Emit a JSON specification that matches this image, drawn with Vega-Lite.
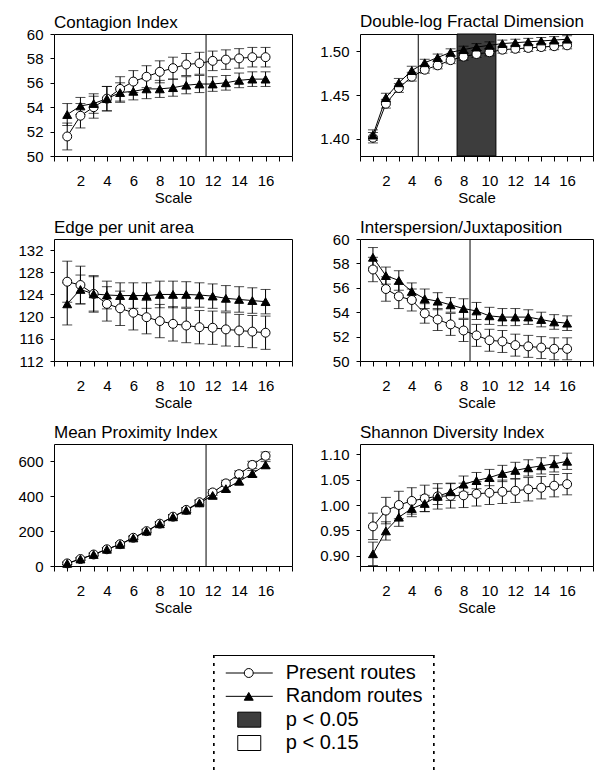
{
"$schema": "https://vega.github.io/schema/vega-lite/v6.json",
"padding": {"left": 13, "top": 12, "right": 0, "bottom": 0},
"background": "white",
"datasets": {
"series": [
{"panel":"contagion","series":"Present","scale":1,"mean":51.6,"lo":50.5,"hi":52.7},
{"panel":"contagion","series":"Present","scale":2,"mean":53.3,"lo":52.3,"hi":54.3},
{"panel":"contagion","series":"Present","scale":3,"mean":54.0,"lo":53.1,"hi":54.9},
{"panel":"contagion","series":"Present","scale":4,"mean":54.7,"lo":53.7,"hi":55.7},
{"panel":"contagion","series":"Present","scale":5,"mean":55.5,"lo":54.5,"hi":56.5},
{"panel":"contagion","series":"Present","scale":6,"mean":56.1,"lo":55.2,"hi":57.0},
{"panel":"contagion","series":"Present","scale":7,"mean":56.5,"lo":55.6,"hi":57.4},
{"panel":"contagion","series":"Present","scale":8,"mean":56.9,"lo":56.0,"hi":57.8},
{"panel":"contagion","series":"Present","scale":9,"mean":57.2,"lo":56.3,"hi":58.1},
{"panel":"contagion","series":"Present","scale":10,"mean":57.5,"lo":56.6,"hi":58.4},
{"panel":"contagion","series":"Present","scale":11,"mean":57.6,"lo":56.7,"hi":58.5},
{"panel":"contagion","series":"Present","scale":12,"mean":57.8,"lo":57.0,"hi":58.6},
{"panel":"contagion","series":"Present","scale":13,"mean":57.9,"lo":57.1,"hi":58.7},
{"panel":"contagion","series":"Present","scale":14,"mean":58.0,"lo":57.2,"hi":58.8},
{"panel":"contagion","series":"Present","scale":15,"mean":58.1,"lo":57.3,"hi":58.9},
{"panel":"contagion","series":"Present","scale":16,"mean":58.1,"lo":57.3,"hi":58.9},
{"panel":"contagion","series":"Random","scale":1,"mean":53.4,"lo":52.5,"hi":54.3},
{"panel":"contagion","series":"Random","scale":2,"mean":54.1,"lo":53.4,"hi":54.8},
{"panel":"contagion","series":"Random","scale":3,"mean":54.3,"lo":53.5,"hi":55.1},
{"panel":"contagion","series":"Random","scale":4,"mean":54.7,"lo":53.7,"hi":55.7},
{"panel":"contagion","series":"Random","scale":5,"mean":55.2,"lo":54.4,"hi":56.0},
{"panel":"contagion","series":"Random","scale":6,"mean":55.3,"lo":54.6,"hi":56.0},
{"panel":"contagion","series":"Random","scale":7,"mean":55.5,"lo":54.7,"hi":56.3},
{"panel":"contagion","series":"Random","scale":8,"mean":55.5,"lo":54.8,"hi":56.2},
{"panel":"contagion","series":"Random","scale":9,"mean":55.6,"lo":54.9,"hi":56.3},
{"panel":"contagion","series":"Random","scale":10,"mean":55.8,"lo":55.1,"hi":56.5},
{"panel":"contagion","series":"Random","scale":11,"mean":55.9,"lo":55.2,"hi":56.6},
{"panel":"contagion","series":"Random","scale":12,"mean":55.9,"lo":55.3,"hi":56.5},
{"panel":"contagion","series":"Random","scale":13,"mean":56.0,"lo":55.4,"hi":56.6},
{"panel":"contagion","series":"Random","scale":14,"mean":56.2,"lo":55.6,"hi":56.8},
{"panel":"contagion","series":"Random","scale":15,"mean":56.3,"lo":55.7,"hi":56.9},
{"panel":"contagion","series":"Random","scale":16,"mean":56.3,"lo":55.7,"hi":56.9},
{"panel":"fractal","series":"Present","scale":1,"mean":1.401,"lo":1.395,"hi":1.407},
{"panel":"fractal","series":"Present","scale":2,"mean":1.440,"lo":1.435,"hi":1.445},
{"panel":"fractal","series":"Present","scale":3,"mean":1.458,"lo":1.453,"hi":1.463},
{"panel":"fractal","series":"Present","scale":4,"mean":1.471,"lo":1.466,"hi":1.476},
{"panel":"fractal","series":"Present","scale":5,"mean":1.479,"lo":1.475,"hi":1.483},
{"panel":"fractal","series":"Present","scale":6,"mean":1.484,"lo":1.480,"hi":1.488},
{"panel":"fractal","series":"Present","scale":7,"mean":1.490,"lo":1.486,"hi":1.494},
{"panel":"fractal","series":"Present","scale":8,"mean":1.494,"lo":1.490,"hi":1.498},
{"panel":"fractal","series":"Present","scale":9,"mean":1.497,"lo":1.493,"hi":1.501},
{"panel":"fractal","series":"Present","scale":10,"mean":1.499,"lo":1.495,"hi":1.503},
{"panel":"fractal","series":"Present","scale":11,"mean":1.502,"lo":1.498,"hi":1.506},
{"panel":"fractal","series":"Present","scale":12,"mean":1.503,"lo":1.499,"hi":1.507},
{"panel":"fractal","series":"Present","scale":13,"mean":1.504,"lo":1.500,"hi":1.508},
{"panel":"fractal","series":"Present","scale":14,"mean":1.505,"lo":1.501,"hi":1.509},
{"panel":"fractal","series":"Present","scale":15,"mean":1.506,"lo":1.502,"hi":1.510},
{"panel":"fractal","series":"Present","scale":16,"mean":1.507,"lo":1.503,"hi":1.511},
{"panel":"fractal","series":"Random","scale":1,"mean":1.404,"lo":1.398,"hi":1.410},
{"panel":"fractal","series":"Random","scale":2,"mean":1.447,"lo":1.442,"hi":1.452},
{"panel":"fractal","series":"Random","scale":3,"mean":1.464,"lo":1.459,"hi":1.469},
{"panel":"fractal","series":"Random","scale":4,"mean":1.478,"lo":1.473,"hi":1.483},
{"panel":"fractal","series":"Random","scale":5,"mean":1.487,"lo":1.483,"hi":1.491},
{"panel":"fractal","series":"Random","scale":6,"mean":1.493,"lo":1.489,"hi":1.497},
{"panel":"fractal","series":"Random","scale":7,"mean":1.499,"lo":1.495,"hi":1.503},
{"panel":"fractal","series":"Random","scale":8,"mean":1.502,"lo":1.498,"hi":1.506},
{"panel":"fractal","series":"Random","scale":9,"mean":1.505,"lo":1.501,"hi":1.509},
{"panel":"fractal","series":"Random","scale":10,"mean":1.507,"lo":1.503,"hi":1.511},
{"panel":"fractal","series":"Random","scale":11,"mean":1.509,"lo":1.505,"hi":1.513},
{"panel":"fractal","series":"Random","scale":12,"mean":1.510,"lo":1.506,"hi":1.514},
{"panel":"fractal","series":"Random","scale":13,"mean":1.511,"lo":1.507,"hi":1.515},
{"panel":"fractal","series":"Random","scale":14,"mean":1.512,"lo":1.508,"hi":1.516},
{"panel":"fractal","series":"Random","scale":15,"mean":1.513,"lo":1.509,"hi":1.517},
{"panel":"fractal","series":"Random","scale":16,"mean":1.514,"lo":1.510,"hi":1.518},
{"panel":"edge","series":"Present","scale":1,"mean":126.3,"lo":122.6,"hi":130.0},
{"panel":"edge","series":"Present","scale":2,"mean":125.7,"lo":122.3,"hi":129.1},
{"panel":"edge","series":"Present","scale":3,"mean":124.1,"lo":120.8,"hi":127.4},
{"panel":"edge","series":"Present","scale":4,"mean":122.3,"lo":119.2,"hi":125.4},
{"panel":"edge","series":"Present","scale":5,"mean":121.5,"lo":118.4,"hi":124.6},
{"panel":"edge","series":"Present","scale":6,"mean":120.7,"lo":117.6,"hi":123.8},
{"panel":"edge","series":"Present","scale":7,"mean":119.9,"lo":116.9,"hi":122.9},
{"panel":"edge","series":"Present","scale":8,"mean":119.2,"lo":116.2,"hi":122.2},
{"panel":"edge","series":"Present","scale":9,"mean":118.7,"lo":115.6,"hi":121.8},
{"panel":"edge","series":"Present","scale":10,"mean":118.4,"lo":115.3,"hi":121.5},
{"panel":"edge","series":"Present","scale":11,"mean":118.1,"lo":115.1,"hi":121.1},
{"panel":"edge","series":"Present","scale":12,"mean":118.0,"lo":115.0,"hi":121.0},
{"panel":"edge","series":"Present","scale":13,"mean":117.7,"lo":114.7,"hi":120.7},
{"panel":"edge","series":"Present","scale":14,"mean":117.5,"lo":114.6,"hi":120.4},
{"panel":"edge","series":"Present","scale":15,"mean":117.3,"lo":114.4,"hi":120.2},
{"panel":"edge","series":"Present","scale":16,"mean":117.1,"lo":114.1,"hi":120.1},
{"panel":"edge","series":"Random","scale":1,"mean":122.3,"lo":118.5,"hi":126.1},
{"panel":"edge","series":"Random","scale":2,"mean":124.9,"lo":122.3,"hi":127.5},
{"panel":"edge","series":"Random","scale":3,"mean":124.1,"lo":121.0,"hi":127.2},
{"panel":"edge","series":"Random","scale":4,"mean":123.9,"lo":121.4,"hi":126.4},
{"panel":"edge","series":"Random","scale":5,"mean":123.8,"lo":121.5,"hi":126.1},
{"panel":"edge","series":"Random","scale":6,"mean":123.8,"lo":121.5,"hi":126.1},
{"panel":"edge","series":"Random","scale":7,"mean":123.8,"lo":121.5,"hi":126.1},
{"panel":"edge","series":"Random","scale":8,"mean":124.0,"lo":121.6,"hi":126.4},
{"panel":"edge","series":"Random","scale":9,"mean":124.0,"lo":121.6,"hi":126.4},
{"panel":"edge","series":"Random","scale":10,"mean":124.0,"lo":121.7,"hi":126.3},
{"panel":"edge","series":"Random","scale":11,"mean":123.9,"lo":121.7,"hi":126.1},
{"panel":"edge","series":"Random","scale":12,"mean":123.7,"lo":121.5,"hi":125.9},
{"panel":"edge","series":"Random","scale":13,"mean":123.3,"lo":121.0,"hi":125.6},
{"panel":"edge","series":"Random","scale":14,"mean":123.1,"lo":120.8,"hi":125.4},
{"panel":"edge","series":"Random","scale":15,"mean":122.9,"lo":120.6,"hi":125.2},
{"panel":"edge","series":"Random","scale":16,"mean":122.7,"lo":120.5,"hi":124.9},
{"panel":"ij","series":"Present","scale":1,"mean":57.5,"lo":56.5,"hi":58.5},
{"panel":"ij","series":"Present","scale":2,"mean":55.9,"lo":54.9,"hi":56.9},
{"panel":"ij","series":"Present","scale":3,"mean":55.3,"lo":54.3,"hi":56.3},
{"panel":"ij","series":"Present","scale":4,"mean":55.0,"lo":54.1,"hi":55.9},
{"panel":"ij","series":"Present","scale":5,"mean":53.9,"lo":53.1,"hi":54.7},
{"panel":"ij","series":"Present","scale":6,"mean":53.4,"lo":52.5,"hi":54.3},
{"panel":"ij","series":"Present","scale":7,"mean":53.0,"lo":52.1,"hi":53.9},
{"panel":"ij","series":"Present","scale":8,"mean":52.5,"lo":51.6,"hi":53.4},
{"panel":"ij","series":"Present","scale":9,"mean":52.1,"lo":51.2,"hi":53.0},
{"panel":"ij","series":"Present","scale":10,"mean":51.7,"lo":50.8,"hi":52.6},
{"panel":"ij","series":"Present","scale":11,"mean":51.6,"lo":50.7,"hi":52.5},
{"panel":"ij","series":"Present","scale":12,"mean":51.3,"lo":50.4,"hi":52.2},
{"panel":"ij","series":"Present","scale":13,"mean":51.2,"lo":50.3,"hi":52.1},
{"panel":"ij","series":"Present","scale":14,"mean":51.1,"lo":50.2,"hi":52.0},
{"panel":"ij","series":"Present","scale":15,"mean":51.0,"lo":50.1,"hi":51.9},
{"panel":"ij","series":"Present","scale":16,"mean":51.0,"lo":50.1,"hi":51.9},
{"panel":"ij","series":"Random","scale":1,"mean":58.5,"lo":57.7,"hi":59.3},
{"panel":"ij","series":"Random","scale":2,"mean":57.0,"lo":56.3,"hi":57.7},
{"panel":"ij","series":"Random","scale":3,"mean":56.6,"lo":55.8,"hi":57.4},
{"panel":"ij","series":"Random","scale":4,"mean":55.7,"lo":55.0,"hi":56.4},
{"panel":"ij","series":"Random","scale":5,"mean":55.1,"lo":54.3,"hi":55.9},
{"panel":"ij","series":"Random","scale":6,"mean":54.9,"lo":54.2,"hi":55.6},
{"panel":"ij","series":"Random","scale":7,"mean":54.6,"lo":54.0,"hi":55.2},
{"panel":"ij","series":"Random","scale":8,"mean":54.3,"lo":53.5,"hi":55.1},
{"panel":"ij","series":"Random","scale":9,"mean":54.1,"lo":53.4,"hi":54.8},
{"panel":"ij","series":"Random","scale":10,"mean":53.7,"lo":53.0,"hi":54.4},
{"panel":"ij","series":"Random","scale":11,"mean":53.6,"lo":52.9,"hi":54.3},
{"panel":"ij","series":"Random","scale":12,"mean":53.6,"lo":52.9,"hi":54.3},
{"panel":"ij","series":"Random","scale":13,"mean":53.6,"lo":53.0,"hi":54.2},
{"panel":"ij","series":"Random","scale":14,"mean":53.4,"lo":52.8,"hi":54.0},
{"panel":"ij","series":"Random","scale":15,"mean":53.2,"lo":52.6,"hi":53.8},
{"panel":"ij","series":"Random","scale":16,"mean":53.1,"lo":52.5,"hi":53.7},
{"panel":"prox","series":"Present","scale":1,"mean":15,"lo":8,"hi":22},
{"panel":"prox","series":"Present","scale":2,"mean":40,"lo":33,"hi":47},
{"panel":"prox","series":"Present","scale":3,"mean":66,"lo":58,"hi":74},
{"panel":"prox","series":"Present","scale":4,"mean":96,"lo":87,"hi":105},
{"panel":"prox","series":"Present","scale":5,"mean":125,"lo":115,"hi":135},
{"panel":"prox","series":"Present","scale":6,"mean":162,"lo":152,"hi":172},
{"panel":"prox","series":"Present","scale":7,"mean":200,"lo":190,"hi":210},
{"panel":"prox","series":"Present","scale":8,"mean":243,"lo":232,"hi":254},
{"panel":"prox","series":"Present","scale":9,"mean":283,"lo":271,"hi":295},
{"panel":"prox","series":"Present","scale":10,"mean":322,"lo":309,"hi":335},
{"panel":"prox","series":"Present","scale":11,"mean":366,"lo":352,"hi":380},
{"panel":"prox","series":"Present","scale":12,"mean":422,"lo":406,"hi":438},
{"panel":"prox","series":"Present","scale":13,"mean":474,"lo":456,"hi":492},
{"panel":"prox","series":"Present","scale":14,"mean":527,"lo":508,"hi":546},
{"panel":"prox","series":"Present","scale":15,"mean":580,"lo":559,"hi":601},
{"panel":"prox","series":"Present","scale":16,"mean":632,"lo":610,"hi":654},
{"panel":"prox","series":"Random","scale":1,"mean":15,"lo":8,"hi":22},
{"panel":"prox","series":"Random","scale":2,"mean":40,"lo":33,"hi":47},
{"panel":"prox","series":"Random","scale":3,"mean":66,"lo":58,"hi":74},
{"panel":"prox","series":"Random","scale":4,"mean":96,"lo":87,"hi":105},
{"panel":"prox","series":"Random","scale":5,"mean":124,"lo":114,"hi":134},
{"panel":"prox","series":"Random","scale":6,"mean":161,"lo":151,"hi":171},
{"panel":"prox","series":"Random","scale":7,"mean":200,"lo":190,"hi":210},
{"panel":"prox","series":"Random","scale":8,"mean":242,"lo":231,"hi":253},
{"panel":"prox","series":"Random","scale":9,"mean":282,"lo":270,"hi":294},
{"panel":"prox","series":"Random","scale":10,"mean":320,"lo":307,"hi":333},
{"panel":"prox","series":"Random","scale":11,"mean":362,"lo":348,"hi":376},
{"panel":"prox","series":"Random","scale":12,"mean":405,"lo":390,"hi":420},
{"panel":"prox","series":"Random","scale":13,"mean":444,"lo":428,"hi":460},
{"panel":"prox","series":"Random","scale":14,"mean":486,"lo":469,"hi":503},
{"panel":"prox","series":"Random","scale":15,"mean":530,"lo":512,"hi":548},
{"panel":"prox","series":"Random","scale":16,"mean":580,"lo":561,"hi":599},
{"panel":"shannon","series":"Present","scale":1,"mean":0.958,"lo":0.932,"hi":0.984},
{"panel":"shannon","series":"Present","scale":2,"mean":0.989,"lo":0.963,"hi":1.015},
{"panel":"shannon","series":"Present","scale":3,"mean":1.000,"lo":0.973,"hi":1.027},
{"panel":"shannon","series":"Present","scale":4,"mean":1.008,"lo":0.982,"hi":1.034},
{"panel":"shannon","series":"Present","scale":5,"mean":1.013,"lo":0.987,"hi":1.039},
{"panel":"shannon","series":"Present","scale":6,"mean":1.017,"lo":0.992,"hi":1.042},
{"panel":"shannon","series":"Present","scale":7,"mean":1.018,"lo":0.994,"hi":1.042},
{"panel":"shannon","series":"Present","scale":8,"mean":1.019,"lo":0.995,"hi":1.043},
{"panel":"shannon","series":"Present","scale":9,"mean":1.022,"lo":0.998,"hi":1.046},
{"panel":"shannon","series":"Present","scale":10,"mean":1.024,"lo":1.001,"hi":1.047},
{"panel":"shannon","series":"Present","scale":11,"mean":1.026,"lo":1.003,"hi":1.049},
{"panel":"shannon","series":"Present","scale":12,"mean":1.028,"lo":1.005,"hi":1.051},
{"panel":"shannon","series":"Present","scale":13,"mean":1.031,"lo":1.008,"hi":1.054},
{"panel":"shannon","series":"Present","scale":14,"mean":1.034,"lo":1.012,"hi":1.056},
{"panel":"shannon","series":"Present","scale":15,"mean":1.038,"lo":1.016,"hi":1.060},
{"panel":"shannon","series":"Present","scale":16,"mean":1.041,"lo":1.020,"hi":1.062},
{"panel":"shannon","series":"Random","scale":1,"mean":0.904,"lo":0.881,"hi":0.927},
{"panel":"shannon","series":"Random","scale":2,"mean":0.949,"lo":0.931,"hi":0.967},
{"panel":"shannon","series":"Random","scale":3,"mean":0.976,"lo":0.958,"hi":0.994},
{"panel":"shannon","series":"Random","scale":4,"mean":0.993,"lo":0.977,"hi":1.009},
{"panel":"shannon","series":"Random","scale":5,"mean":1.003,"lo":0.987,"hi":1.019},
{"panel":"shannon","series":"Random","scale":6,"mean":1.017,"lo":1.001,"hi":1.033},
{"panel":"shannon","series":"Random","scale":7,"mean":1.026,"lo":1.009,"hi":1.043},
{"panel":"shannon","series":"Random","scale":8,"mean":1.041,"lo":1.025,"hi":1.057},
{"panel":"shannon","series":"Random","scale":9,"mean":1.048,"lo":1.032,"hi":1.064},
{"panel":"shannon","series":"Random","scale":10,"mean":1.054,"lo":1.038,"hi":1.070},
{"panel":"shannon","series":"Random","scale":11,"mean":1.062,"lo":1.046,"hi":1.078},
{"panel":"shannon","series":"Random","scale":12,"mean":1.068,"lo":1.052,"hi":1.084},
{"panel":"shannon","series":"Random","scale":13,"mean":1.073,"lo":1.057,"hi":1.089},
{"panel":"shannon","series":"Random","scale":14,"mean":1.077,"lo":1.061,"hi":1.093},
{"panel":"shannon","series":"Random","scale":15,"mean":1.081,"lo":1.065,"hi":1.097},
{"panel":"shannon","series":"Random","scale":16,"mean":1.086,"lo":1.070,"hi":1.102}
],
"regions": [
{"panel":"contagion","scale":11.5},
{"panel":"fractal","scale":4.5},
{"panel":"ij","scale":8.5},
{"panel":"prox","scale":11.5}
],
"bands": [
{"panel":"fractal","scale":7.5,"end":10.5}
],
"legend": [
{"label":"Present routes","kind":"series","series":"Present"},
{"label":"Random routes","kind":"series","series":"Random"},
{"label":"p < 0.05","kind":"swatch","series":""},
{"label":"p < 0.15","kind":"swatch","series":""}
]
},
"vconcat": [
{"vconcat": [
{"hconcat": [
{"width": 238, "height": 122, "title": {"text": "Contagion Index", "offset": -5},
 "layer": [
  {"data": {"name": "regions"}, "transform": [{"filter": "datum.panel == 'contagion'"}],
   "mark": {"type": "rule", "color": "black", "strokeWidth": 1},
   "encoding": {"x": {"field": "scale", "type": "quantitative", "title": "Scale", "scale": {"domain": [0, 18], "nice": false, "zero": false}, "axis": {"values": [0,1,2,3,4,5,6,7,8,9,10,11,12,13,14,15,16,17,18], "labelExpr": "(datum.value % 2 == 0 && datum.value >= 2 && datum.value <= 16) ? datum.label : ''"}}}},
  {"data": {"name": "series"}, "transform": [{"filter": "datum.panel == 'contagion'"}],
   "encoding": {"x": {"field": "scale", "type": "quantitative", "title": "Scale", "scale": {"domain": [0, 18], "nice": false, "zero": false}, "axis": {"values": [0,1,2,3,4,5,6,7,8,9,10,11,12,13,14,15,16,17,18], "labelExpr": "(datum.value % 2 == 0 && datum.value >= 2 && datum.value <= 16) ? datum.label : ''"}}},
   "layer": [
    {"mark": {"type": "rule", "color": "black", "strokeWidth": 1}, "encoding": {"y": {"field": "lo", "type": "quantitative", "title": null, "scale": {"domain": [50, 60], "nice": false, "zero": false}, "axis": {"values": [50,52,54,56,58,60]}}, "y2": {"field": "hi"}}},
    {"mark": {"type": "tick", "orient": "horizontal", "size": 10, "thickness": 1, "color": "black"}, "encoding": {"y": {"field": "lo", "type": "quantitative", "title": null, "scale": {"domain": [50, 60], "nice": false, "zero": false}, "axis": {"values": [50,52,54,56,58,60]}}}},
    {"mark": {"type": "tick", "orient": "horizontal", "size": 10, "thickness": 1, "color": "black"}, "encoding": {"y": {"field": "hi", "type": "quantitative", "title": null, "scale": {"domain": [50, 60], "nice": false, "zero": false}, "axis": {"values": [50,52,54,56,58,60]}}}},
    {"mark": {"type": "line", "color": "black", "strokeWidth": 1}, "encoding": {"y": {"field": "mean", "type": "quantitative", "title": null, "scale": {"domain": [50, 60], "nice": false, "zero": false}, "axis": {"values": [50,52,54,56,58,60]}}, "detail": {"field": "series"}}},
    {"mark": {"type": "point", "filled": true, "size": 80, "stroke": "black", "strokeWidth": 1, "opacity": 1}, "encoding": {"y": {"field": "mean", "type": "quantitative", "title": null, "scale": {"domain": [50, 60], "nice": false, "zero": false}, "axis": {"values": [50,52,54,56,58,60]}}, "shape": {"field": "series", "type": "nominal", "scale": {"domain": ["Present", "Random"], "range": ["circle", "triangle-up"]}, "legend": null}, "fill": {"field": "series", "type": "nominal", "scale": {"domain": ["Present", "Random"], "range": ["white", "black"]}, "legend": null}}}
   ]}
 ]},
{"width": 233, "height": 122, "title": {"text": "Double-log Fractal Dimension", "offset": 2},
 "layer": [
  {"data": {"name": "bands"}, "transform": [{"filter": "datum.panel == 'fractal'"}],
   "mark": {"type": "rect", "fill": "#3d3d3d", "stroke": "black", "strokeWidth": 1},
   "encoding": {"x": {"field": "scale", "type": "quantitative", "title": "Scale", "scale": {"domain": [0, 18], "nice": false, "zero": false}, "axis": {"values": [0,1,2,3,4,5,6,7,8,9,10,11,12,13,14,15,16,17,18], "labelExpr": "(datum.value % 2 == 0 && datum.value >= 2 && datum.value <= 16) ? datum.label : ''"}}, "x2": {"field": "end"}}},
  {"data": {"name": "regions"}, "transform": [{"filter": "datum.panel == 'fractal'"}],
   "mark": {"type": "rule", "color": "black", "strokeWidth": 1},
   "encoding": {"x": {"field": "scale", "type": "quantitative", "title": "Scale", "scale": {"domain": [0, 18], "nice": false, "zero": false}, "axis": {"values": [0,1,2,3,4,5,6,7,8,9,10,11,12,13,14,15,16,17,18], "labelExpr": "(datum.value % 2 == 0 && datum.value >= 2 && datum.value <= 16) ? datum.label : ''"}}}},
  {"data": {"name": "series"}, "transform": [{"filter": "datum.panel == 'fractal'"}],
   "encoding": {"x": {"field": "scale", "type": "quantitative", "title": "Scale", "scale": {"domain": [0, 18], "nice": false, "zero": false}, "axis": {"values": [0,1,2,3,4,5,6,7,8,9,10,11,12,13,14,15,16,17,18], "labelExpr": "(datum.value % 2 == 0 && datum.value >= 2 && datum.value <= 16) ? datum.label : ''"}}},
   "layer": [
    {"mark": {"type": "rule", "color": "black", "strokeWidth": 1}, "encoding": {"y": {"field": "lo", "type": "quantitative", "title": null, "scale": {"domain": [1.38, 1.52], "nice": false, "zero": false}, "axis": {"values": [1.40,1.45,1.50], "format": ".2f"}}, "y2": {"field": "hi"}}},
    {"mark": {"type": "tick", "orient": "horizontal", "size": 10, "thickness": 1, "color": "black"}, "encoding": {"y": {"field": "lo", "type": "quantitative", "title": null, "scale": {"domain": [1.38, 1.52], "nice": false, "zero": false}, "axis": {"values": [1.40,1.45,1.50], "format": ".2f"}}}},
    {"mark": {"type": "tick", "orient": "horizontal", "size": 10, "thickness": 1, "color": "black"}, "encoding": {"y": {"field": "hi", "type": "quantitative", "title": null, "scale": {"domain": [1.38, 1.52], "nice": false, "zero": false}, "axis": {"values": [1.40,1.45,1.50], "format": ".2f"}}}},
    {"mark": {"type": "line", "color": "black", "strokeWidth": 1}, "encoding": {"y": {"field": "mean", "type": "quantitative", "title": null, "scale": {"domain": [1.38, 1.52], "nice": false, "zero": false}, "axis": {"values": [1.40,1.45,1.50], "format": ".2f"}}, "detail": {"field": "series"}}},
    {"mark": {"type": "point", "filled": true, "size": 80, "stroke": "black", "strokeWidth": 1, "opacity": 1}, "encoding": {"y": {"field": "mean", "type": "quantitative", "title": null, "scale": {"domain": [1.38, 1.52], "nice": false, "zero": false}, "axis": {"values": [1.40,1.45,1.50], "format": ".2f"}}, "shape": {"field": "series", "type": "nominal", "scale": {"domain": ["Present", "Random"], "range": ["circle", "triangle-up"]}, "legend": null}, "fill": {"field": "series", "type": "nominal", "scale": {"domain": ["Present", "Random"], "range": ["white", "black"]}, "legend": null}}}
   ]}
 ]}
], "spacing": 26},
{"hconcat": [
{"width": 238, "height": 122, "title": {"text": "Edge per unit area", "offset": 2},
 "layer": [
  {"data": {"name": "series"}, "transform": [{"filter": "datum.panel == 'edge'"}],
   "encoding": {"x": {"field": "scale", "type": "quantitative", "title": "Scale", "scale": {"domain": [0, 18], "nice": false, "zero": false}, "axis": {"values": [0,1,2,3,4,5,6,7,8,9,10,11,12,13,14,15,16,17,18], "labelExpr": "(datum.value % 2 == 0 && datum.value >= 2 && datum.value <= 16) ? datum.label : ''"}}},
   "layer": [
    {"mark": {"type": "rule", "color": "black", "strokeWidth": 1}, "encoding": {"y": {"field": "lo", "type": "quantitative", "title": null, "scale": {"domain": [112, 134], "nice": false, "zero": false}, "axis": {"values": [112,116,120,124,128,132]}}, "y2": {"field": "hi"}}},
    {"mark": {"type": "tick", "orient": "horizontal", "size": 10, "thickness": 1, "color": "black"}, "encoding": {"y": {"field": "lo", "type": "quantitative", "title": null, "scale": {"domain": [112, 134], "nice": false, "zero": false}, "axis": {"values": [112,116,120,124,128,132]}}}},
    {"mark": {"type": "tick", "orient": "horizontal", "size": 10, "thickness": 1, "color": "black"}, "encoding": {"y": {"field": "hi", "type": "quantitative", "title": null, "scale": {"domain": [112, 134], "nice": false, "zero": false}, "axis": {"values": [112,116,120,124,128,132]}}}},
    {"mark": {"type": "line", "color": "black", "strokeWidth": 1}, "encoding": {"y": {"field": "mean", "type": "quantitative", "title": null, "scale": {"domain": [112, 134], "nice": false, "zero": false}, "axis": {"values": [112,116,120,124,128,132]}}, "detail": {"field": "series"}}},
    {"mark": {"type": "point", "filled": true, "size": 80, "stroke": "black", "strokeWidth": 1, "opacity": 1}, "encoding": {"y": {"field": "mean", "type": "quantitative", "title": null, "scale": {"domain": [112, 134], "nice": false, "zero": false}, "axis": {"values": [112,116,120,124,128,132]}}, "shape": {"field": "series", "type": "nominal", "scale": {"domain": ["Present", "Random"], "range": ["circle", "triangle-up"]}, "legend": null}, "fill": {"field": "series", "type": "nominal", "scale": {"domain": ["Present", "Random"], "range": ["white", "black"]}, "legend": null}}}
   ]}
 ]},
{"width": 233, "height": 122, "title": {"text": "Interspersion/Juxtaposition", "offset": -5},
 "layer": [
  {"data": {"name": "regions"}, "transform": [{"filter": "datum.panel == 'ij'"}],
   "mark": {"type": "rule", "color": "black", "strokeWidth": 1},
   "encoding": {"x": {"field": "scale", "type": "quantitative", "title": "Scale", "scale": {"domain": [0, 18], "nice": false, "zero": false}, "axis": {"values": [0,1,2,3,4,5,6,7,8,9,10,11,12,13,14,15,16,17,18], "labelExpr": "(datum.value % 2 == 0 && datum.value >= 2 && datum.value <= 16) ? datum.label : ''"}}}},
  {"data": {"name": "series"}, "transform": [{"filter": "datum.panel == 'ij'"}],
   "encoding": {"x": {"field": "scale", "type": "quantitative", "title": "Scale", "scale": {"domain": [0, 18], "nice": false, "zero": false}, "axis": {"values": [0,1,2,3,4,5,6,7,8,9,10,11,12,13,14,15,16,17,18], "labelExpr": "(datum.value % 2 == 0 && datum.value >= 2 && datum.value <= 16) ? datum.label : ''"}}},
   "layer": [
    {"mark": {"type": "rule", "color": "black", "strokeWidth": 1}, "encoding": {"y": {"field": "lo", "type": "quantitative", "title": null, "scale": {"domain": [50, 60], "nice": false, "zero": false}, "axis": {"values": [50,52,54,56,58,60]}}, "y2": {"field": "hi"}}},
    {"mark": {"type": "tick", "orient": "horizontal", "size": 10, "thickness": 1, "color": "black"}, "encoding": {"y": {"field": "lo", "type": "quantitative", "title": null, "scale": {"domain": [50, 60], "nice": false, "zero": false}, "axis": {"values": [50,52,54,56,58,60]}}}},
    {"mark": {"type": "tick", "orient": "horizontal", "size": 10, "thickness": 1, "color": "black"}, "encoding": {"y": {"field": "hi", "type": "quantitative", "title": null, "scale": {"domain": [50, 60], "nice": false, "zero": false}, "axis": {"values": [50,52,54,56,58,60]}}}},
    {"mark": {"type": "line", "color": "black", "strokeWidth": 1}, "encoding": {"y": {"field": "mean", "type": "quantitative", "title": null, "scale": {"domain": [50, 60], "nice": false, "zero": false}, "axis": {"values": [50,52,54,56,58,60]}}, "detail": {"field": "series"}}},
    {"mark": {"type": "point", "filled": true, "size": 80, "stroke": "black", "strokeWidth": 1, "opacity": 1}, "encoding": {"y": {"field": "mean", "type": "quantitative", "title": null, "scale": {"domain": [50, 60], "nice": false, "zero": false}, "axis": {"values": [50,52,54,56,58,60]}}, "shape": {"field": "series", "type": "nominal", "scale": {"domain": ["Present", "Random"], "range": ["circle", "triangle-up"]}, "legend": null}, "fill": {"field": "series", "type": "nominal", "scale": {"domain": ["Present", "Random"], "range": ["white", "black"]}, "legend": null}}}
   ]}
 ]}
], "spacing": 26},
{"hconcat": [
{"width": 238, "height": 122, "title": {"text": "Mean Proximity Index", "offset": 2},
 "layer": [
  {"data": {"name": "regions"}, "transform": [{"filter": "datum.panel == 'prox'"}],
   "mark": {"type": "rule", "color": "black", "strokeWidth": 1},
   "encoding": {"x": {"field": "scale", "type": "quantitative", "title": "Scale", "scale": {"domain": [0, 18], "nice": false, "zero": false}, "axis": {"values": [0,1,2,3,4,5,6,7,8,9,10,11,12,13,14,15,16,17,18], "labelExpr": "(datum.value % 2 == 0 && datum.value >= 2 && datum.value <= 16) ? datum.label : ''"}}}},
  {"data": {"name": "series"}, "transform": [{"filter": "datum.panel == 'prox'"}],
   "encoding": {"x": {"field": "scale", "type": "quantitative", "title": "Scale", "scale": {"domain": [0, 18], "nice": false, "zero": false}, "axis": {"values": [0,1,2,3,4,5,6,7,8,9,10,11,12,13,14,15,16,17,18], "labelExpr": "(datum.value % 2 == 0 && datum.value >= 2 && datum.value <= 16) ? datum.label : ''"}}},
   "layer": [
    {"mark": {"type": "rule", "color": "black", "strokeWidth": 1}, "encoding": {"y": {"field": "lo", "type": "quantitative", "title": null, "scale": {"domain": [0, 700], "nice": false, "zero": false}, "axis": {"values": [0,200,400,600]}}, "y2": {"field": "hi"}}},
    {"mark": {"type": "tick", "orient": "horizontal", "size": 10, "thickness": 1, "color": "black"}, "encoding": {"y": {"field": "lo", "type": "quantitative", "title": null, "scale": {"domain": [0, 700], "nice": false, "zero": false}, "axis": {"values": [0,200,400,600]}}}},
    {"mark": {"type": "tick", "orient": "horizontal", "size": 10, "thickness": 1, "color": "black"}, "encoding": {"y": {"field": "hi", "type": "quantitative", "title": null, "scale": {"domain": [0, 700], "nice": false, "zero": false}, "axis": {"values": [0,200,400,600]}}}},
    {"mark": {"type": "line", "color": "black", "strokeWidth": 1}, "encoding": {"y": {"field": "mean", "type": "quantitative", "title": null, "scale": {"domain": [0, 700], "nice": false, "zero": false}, "axis": {"values": [0,200,400,600]}}, "detail": {"field": "series"}}},
    {"mark": {"type": "point", "filled": true, "size": 80, "stroke": "black", "strokeWidth": 1, "opacity": 1}, "encoding": {"y": {"field": "mean", "type": "quantitative", "title": null, "scale": {"domain": [0, 700], "nice": false, "zero": false}, "axis": {"values": [0,200,400,600]}}, "shape": {"field": "series", "type": "nominal", "scale": {"domain": ["Present", "Random"], "range": ["circle", "triangle-up"]}, "legend": null}, "fill": {"field": "series", "type": "nominal", "scale": {"domain": ["Present", "Random"], "range": ["white", "black"]}, "legend": null}}}
   ]}
 ]},
{"width": 233, "height": 122, "title": {"text": "Shannon Diversity Index", "offset": 2},
 "layer": [
  {"data": {"name": "series"}, "transform": [{"filter": "datum.panel == 'shannon'"}],
   "encoding": {"x": {"field": "scale", "type": "quantitative", "title": "Scale", "scale": {"domain": [0, 18], "nice": false, "zero": false}, "axis": {"values": [0,1,2,3,4,5,6,7,8,9,10,11,12,13,14,15,16,17,18], "labelExpr": "(datum.value % 2 == 0 && datum.value >= 2 && datum.value <= 16) ? datum.label : ''"}}},
   "layer": [
    {"mark": {"type": "rule", "color": "black", "strokeWidth": 1}, "encoding": {"y": {"field": "lo", "type": "quantitative", "title": null, "scale": {"domain": [0.88, 1.12], "nice": false, "zero": false}, "axis": {"values": [0.90,0.95,1.00,1.05,1.10], "format": ".2f"}}, "y2": {"field": "hi"}}},
    {"mark": {"type": "tick", "orient": "horizontal", "size": 10, "thickness": 1, "color": "black"}, "encoding": {"y": {"field": "lo", "type": "quantitative", "title": null, "scale": {"domain": [0.88, 1.12], "nice": false, "zero": false}, "axis": {"values": [0.90,0.95,1.00,1.05,1.10], "format": ".2f"}}}},
    {"mark": {"type": "tick", "orient": "horizontal", "size": 10, "thickness": 1, "color": "black"}, "encoding": {"y": {"field": "hi", "type": "quantitative", "title": null, "scale": {"domain": [0.88, 1.12], "nice": false, "zero": false}, "axis": {"values": [0.90,0.95,1.00,1.05,1.10], "format": ".2f"}}}},
    {"mark": {"type": "line", "color": "black", "strokeWidth": 1}, "encoding": {"y": {"field": "mean", "type": "quantitative", "title": null, "scale": {"domain": [0.88, 1.12], "nice": false, "zero": false}, "axis": {"values": [0.90,0.95,1.00,1.05,1.10], "format": ".2f"}}, "detail": {"field": "series"}}},
    {"mark": {"type": "point", "filled": true, "size": 80, "stroke": "black", "strokeWidth": 1, "opacity": 1}, "encoding": {"y": {"field": "mean", "type": "quantitative", "title": null, "scale": {"domain": [0.88, 1.12], "nice": false, "zero": false}, "axis": {"values": [0.90,0.95,1.00,1.05,1.10], "format": ".2f"}}, "shape": {"field": "series", "type": "nominal", "scale": {"domain": ["Present", "Random"], "range": ["circle", "triangle-up"]}, "legend": null}, "fill": {"field": "series", "type": "nominal", "scale": {"domain": ["Present", "Random"], "range": ["white", "black"]}, "legend": null}}}
   ]}
 ]}
], "spacing": 26}
], "spacing": 12},
{"width": 220, "height": 120,
 "view": {"stroke": null},
 "data": {"name": "legend"},
 "layer": [
  {"mark": {"type": "rule", "color": "black", "strokeWidth": 1, "strokeDash": [3, 5]},
   "encoding": {"x": {"datum": 0, "type": "quantitative", "scale": {"domain": [0, 220], "nice": false, "zero": false}, "axis": {"orient": "top", "labels": false, "ticks": false, "domain": true, "domainColor": "black", "domainWidth": 1, "title": null, "grid": false}}}},
  {"mark": {"type": "rule", "color": "black", "strokeWidth": 1, "strokeDash": [3, 5]},
   "encoding": {"x": {"datum": 220, "type": "quantitative", "scale": {"domain": [0, 220], "nice": false, "zero": false}, "axis": {"orient": "top", "labels": false, "ticks": false, "domain": true, "domainColor": "black", "domainWidth": 1, "title": null, "grid": false}}}},
  {"transform": [{"filter": "datum.kind == 'series'"}],
   "mark": {"type": "rule", "color": "black", "strokeWidth": 1},
   "encoding": {"x": {"datum": 12, "type": "quantitative", "scale": {"domain": [0, 220], "nice": false, "zero": false}, "axis": {"orient": "top", "labels": false, "ticks": false, "domain": true, "domainColor": "black", "domainWidth": 1, "title": null, "grid": false}}, "x2": {"datum": 59},
    "y": {"field": "label", "type": "nominal", "sort": null, "scale": {"type": "point", "domain": ["Present routes", "Random routes", "p < 0.05", "p < 0.15"], "range": [18, 88], "padding": 0}, "axis": {"labels": false, "ticks": false, "domain": false, "title": null, "grid": false, "minExtent": 42, "maxExtent": 42}}}},
  {"transform": [{"filter": "datum.kind == 'series'"}],
   "mark": {"type": "point", "filled": true, "size": 80, "stroke": "black", "strokeWidth": 1, "opacity": 1},
   "encoding": {"x": {"datum": 35, "type": "quantitative", "scale": {"domain": [0, 220], "nice": false, "zero": false}, "axis": {"orient": "top", "labels": false, "ticks": false, "domain": true, "domainColor": "black", "domainWidth": 1, "title": null, "grid": false}},
    "y": {"field": "label", "type": "nominal", "sort": null, "scale": {"type": "point", "domain": ["Present routes", "Random routes", "p < 0.05", "p < 0.15"], "range": [18, 88], "padding": 0}, "axis": {"labels": false, "ticks": false, "domain": false, "title": null, "grid": false, "minExtent": 42, "maxExtent": 42}},
    "shape": {"field": "series", "type": "nominal", "scale": {"domain": ["Present", "Random"], "range": ["circle", "triangle-up"]}, "legend": null},
    "fill": {"field": "series", "type": "nominal", "scale": {"domain": ["Present", "Random"], "range": ["white", "black"]}, "legend": null}}},
  {"transform": [{"filter": "datum.kind == 'swatch'"}],
   "mark": {"type": "rect", "stroke": "black", "strokeWidth": 1, "height": 15},
   "encoding": {"x": {"datum": 24, "type": "quantitative", "scale": {"domain": [0, 220], "nice": false, "zero": false}, "axis": {"orient": "top", "labels": false, "ticks": false, "domain": true, "domainColor": "black", "domainWidth": 1, "title": null, "grid": false}}, "x2": {"datum": 47},
    "y": {"field": "label", "type": "nominal", "sort": null, "scale": {"type": "point", "domain": ["Present routes", "Random routes", "p < 0.05", "p < 0.15"], "range": [18, 88], "padding": 0}, "axis": {"labels": false, "ticks": false, "domain": false, "title": null, "grid": false, "minExtent": 42, "maxExtent": 42}},
    "color": {"field": "label", "type": "nominal", "scale": {"domain": ["p < 0.05", "p < 0.15"], "range": ["#3d3d3d", "white"]}, "legend": null}}},
  {"mark": {"type": "text", "align": "left", "baseline": "middle", "fontSize": 20, "font": "Liberation Sans", "color": "black"},
   "encoding": {"x": {"datum": 72, "type": "quantitative", "scale": {"domain": [0, 220], "nice": false, "zero": false}, "axis": {"orient": "top", "labels": false, "ticks": false, "domain": true, "domainColor": "black", "domainWidth": 1, "title": null, "grid": false}},
    "y": {"field": "label", "type": "nominal", "sort": null, "scale": {"type": "point", "domain": ["Present routes", "Random routes", "p < 0.05", "p < 0.15"], "range": [18, 88], "padding": 0}, "axis": {"labels": false, "ticks": false, "domain": false, "title": null, "grid": false, "minExtent": 42, "maxExtent": 42}},
    "text": {"field": "label"}}}
 ]}
],
"spacing": 38,
"center": true,
"config": {
 "font": "Liberation Sans",
 "view": {"stroke": "black", "strokeWidth": 1},
 "axis": {"grid": false, "domain": false, "tickColor": "black", "tickSize": 5, "labelColor": "black", "labelFont": "Liberation Sans", "labelFontSize": 15, "titleFont": "Liberation Sans", "titleFontSize": 15, "titleFontWeight": "normal", "titleColor": "black", "labelPadding": 3},
 "axisY": {"minExtent": 40, "labelPadding": 7, "tickSize": 4, "labelOverlap": false},
 "axisX": {"labelFlush": false, "labelOverlap": false, "titlePadding": 2, "labelPadding": 12},
 "title": {"anchor": "start", "frame": "group", "font": "Liberation Sans", "fontSize": 17, "fontWeight": "normal", "color": "black", "offset": -5, "baseline": "alphabetic"}
}
}
